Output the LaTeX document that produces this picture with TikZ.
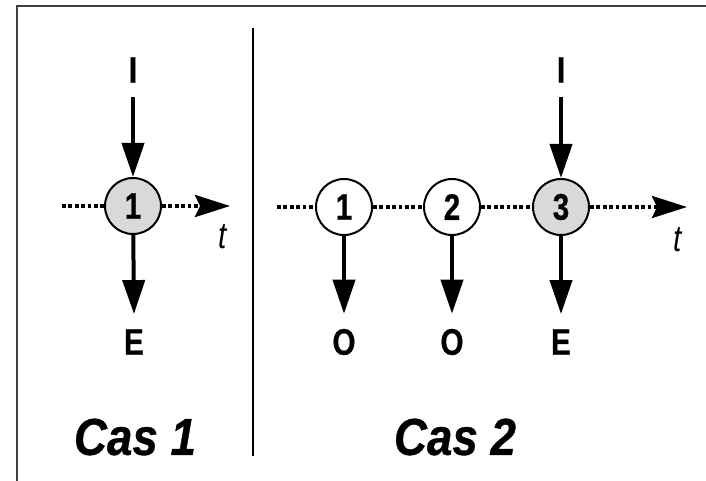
\documentclass[tikz,border=0pt]{standalone}
\usepackage{fontspec}
\setmainfont{Liberation Sans}
\newfontfamily\cf[FakeStretch=0.8,BoldFeatures={FakeBold=0.6}]{Liberation Sans}
\newfontfamily\cfc[FakeStretch=0.88,BoldFeatures={FakeBold=0.6},BoldItalicFeatures={FakeBold=0.6}]{Liberation Sans}
\usetikzlibrary{arrows.meta}
\begin{document}
\begin{tikzpicture}[x=1pt,y=-1pt,
  evt/.style={circle,draw,line width=2pt,minimum size=56pt,inner sep=0pt,fill=white,
    font=\cf\bfseries\fontsize{37}{40}\selectfont},
  shaded/.style={fill=gray!30},
  lbl/.style={inner sep=0pt,font=\cf\bfseries\fontsize{37}{40}\selectfont},
  tlbl/.style={inner sep=0pt,font=\cf\itshape\fontsize{37}{40}\selectfont},
  caslbl/.style={inner sep=0pt,font=\cfc\bfseries\itshape\fontsize{52}{56}\selectfont},
  arr/.style={line width=4pt,-{Triangle[length=34pt,width=22pt]}},
  dotline/.style={line width=3.6pt,dash pattern=on 3.8pt off 2.6pt},
  tarr/.style={dotline,-{Stealth[length=35pt,width=22pt,inset=5pt]}}
]
\useasboundingbox (0,0) rectangle (706,481);
% frame
\draw[line width=1.3pt,black!75] (17,481) -- (17,6) -- (706,6);
% separator
\draw[line width=1.5pt] (253,28) -- (253,456);

% ---- Cas 1
\coordinate (s1) at (62,206);
\coordinate (e1) at (230,206);
\node[evt,shaded] (c1) at (133,206) {1};
\draw[dotline] (s1) -- (c1);
\draw[tarr] (c1) -- (e1);
\node[lbl] (I1) at (133,70) {I};
\node[lbl] (E1) at (134,342) {E};
\node[tlbl] (t1) at (223,237) {t};
\draw[arr] ([yshift=-14pt]I1.south) -- (c1);
\draw[arr] (c1) -- ([yshift=15pt]E1.north);
\node[caslbl] (cas1) at (135,437) {Cas 1};

% ---- Cas 2
\coordinate (s2) at (277,207);
\coordinate (e2) at (687,207);
\node[evt] (c21) at (344,207) {1};
\node[evt] (c22) at (452,207) {2};
\node[evt,shaded] (c23) at (561,207) {3};
\draw[dotline] (s2) -- (c21);
\draw[dotline] (c21) -- (c22);
\draw[dotline] (c22) -- (c23);
\draw[tarr] (c23) -- (e2);
\node[tlbl] (t2) at (678,240) {t};
\node[lbl] (I2) at (561,70) {I};
\node[lbl] (O1) at (344,342) {O};
\node[lbl] (O2) at (452,342) {O};
\node[lbl] (E2) at (561,342) {E};
\draw[arr] ([yshift=-14pt]I2.south) -- (c23);
\draw[arr] (c21) -- ([yshift=15pt]O1.north);
\draw[arr] (c22) -- ([yshift=15pt]O2.north);
\draw[arr] (c23) -- ([yshift=15pt]E2.north);
\node[caslbl] (cas2) at (455,437) {Cas 2};
\end{tikzpicture}
\end{document}
